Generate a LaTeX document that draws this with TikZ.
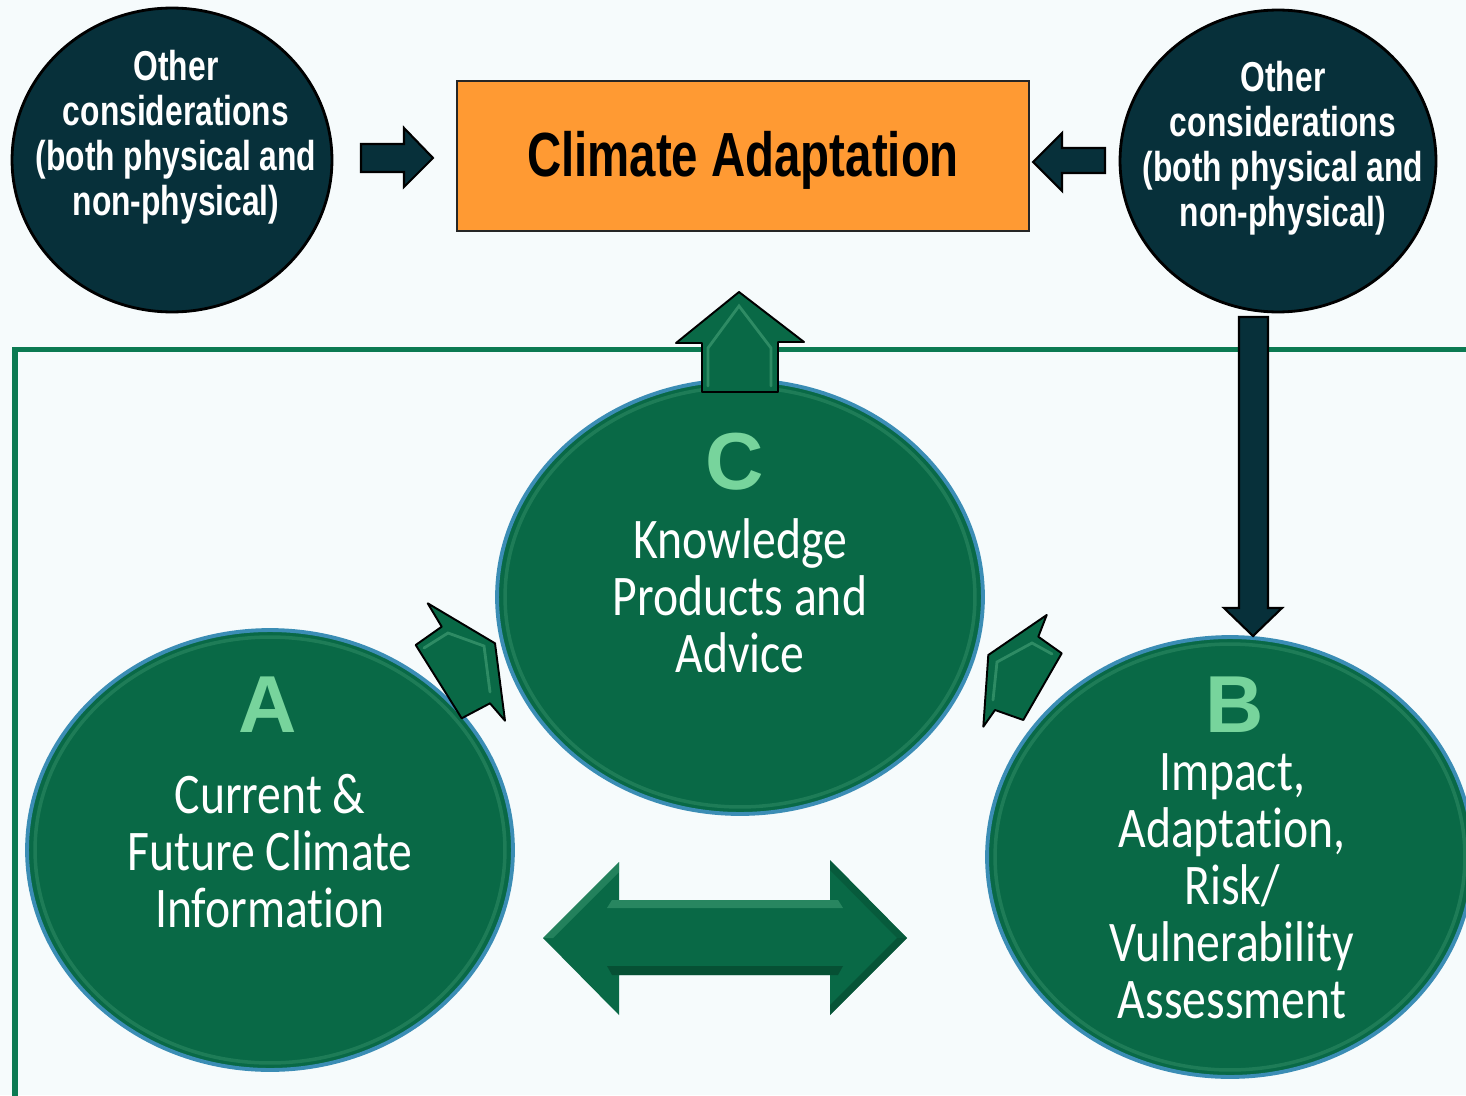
\documentclass[tikz,border=0pt]{standalone}
\usepackage{fontspec}
\setmainfont{Carlito}
\newfontfamily\lightf[FakeStretch=0.83,Ligatures=NoCommon]{Carlito}
\newfontfamily\boldn[FakeStretch=0.76]{Liberation Sans}
\newfontfamily\letterf{Liberation Sans}
\usetikzlibrary{shapes.geometric}
\definecolor{bg}{HTML}{F6FBFC}
\definecolor{darkc}{HTML}{07303A}
\definecolor{orangec}{HTML}{FF9A33}
\definecolor{greenc}{HTML}{096946}
\definecolor{rimc}{HTML}{3B8DB5}
\definecolor{framec}{HTML}{0C7A52}
\definecolor{letterc}{HTML}{77D49C}
\definecolor{hilite}{HTML}{3E9A72}
\definecolor{shadowc}{HTML}{05462D}
\tikzset{
  darkcirc/.style={ellipse, draw=black, line width=1.6pt, fill=darkc, inner sep=0pt, outer sep=0pt},
  greencirc/.style={ellipse, draw=rimc, line width=2.2pt, fill=greenc, inner sep=0pt, outer sep=0pt},
  bevel/.style={draw=hilite, line width=2pt, opacity=0.4},
  darktext/.style={text=white, align=center, font=\boldn\bfseries\fontsize{23.8pt}{25.6pt}\selectfont},
  lighttext/.style={text=white, align=center, font=\lightf\fontsize{32.7pt}{32.4pt}\selectfont},
  lettertext/.style={text=letterc, font=\letterf\bfseries\fontsize{46pt}{46pt}\selectfont},
  darkarrow/.style={fill=darkc, draw=black, line width=1.2pt, line join=miter},
  greenarrow/.style={fill=greenc, draw=black, line width=1.1pt, line join=round},
  hl/.style={draw=hilite, line width=1.6pt, opacity=0.7, line cap=round},
}
\begin{document}
\begin{tikzpicture}[x=0.02cm, y=-0.02cm]
\clip (0,0) rectangle (1466,1095);
\fill[bg] (0,0) rectangle (1466,1095);

% green frame
\draw[framec, line width=2.85pt] (15,1100) -- (15,349) -- (1470,349);

% top row
\node[darkcirc, minimum width=6.4cm, minimum height=6.08cm] (L) at (172,160) {};
\node[darkcirc, minimum width=6.32cm, minimum height=6.04cm] (R) at (1278,161) {};
\node[rectangle, draw=black!85, line width=1.1pt, fill=orangec, minimum width=11.44cm, minimum height=3cm, inner sep=0pt] (T) at (743,156) {};
\node[text=black, font=\boldn\bfseries\fontsize{35.5pt}{36pt}\selectfont] (Tt) at (743,160) {Climate Adaptation};
\node[darktext] (Lt) at (176,137) {Other\\considerations\\(both physical and\\non-physical)};
\node[darktext] (Rt) at (1283,148) {Other\\considerations\\(both physical and\\non-physical)};

% dark arrows
\draw[darkarrow] (361,144) -- (404,144) -- (404,128) -- (433,158) -- (404,187) -- (404,172) -- (361,172) -- cycle;
\draw[darkarrow] (1105,148) -- (1062,148) -- (1062,133) -- (1033,162) -- (1062,191) -- (1062,173) -- (1105,173) -- cycle;

% green circles
\node[greencirc, minimum width=9.72cm, minimum height=8.68cm] (C) at (740,597) {};
\node[greencirc, minimum width=9.72cm, minimum height=8.8cm] (A) at (270,850) {};
\node[greencirc, minimum width=9.72cm, minimum height=8.8cm] (B) at (1230,857) {};
\foreach \n/\ry in {C/4.2, A/4.26, B/4.26}{
  \draw[bevel] (\n.center) ellipse [x radius=4.7cm, y radius=\ry cm];
}

% texts in circles
\node[lettertext] (Cl) at (735,462) {C};
\node[lighttext] (Ct) at (740,596) {Knowledge\\Products and\\Advice};
\node[lettertext] (Al) at (268,705) {A};
\node[lighttext] (At) at (270,851) {Current \&\\Future Climate\\Information};
\node[lettertext] (Bl) at (1235,705) {B};
\node[lighttext] (Bt) at (1232,886) {Impact,\\Adaptation,\\Risk/\\Vulnerability\\Assessment};

% down arrow from R to B
\draw[darkarrow] (1239,317) -- (1268,317) -- (1268,608) -- (1282,608) -- (1253,636) -- (1224,608) -- (1239,608) -- cycle;

% up arrow from C to T
\draw[greenarrow] (702,392) -- (702,343) -- (676,343) -- (739,292) -- (804,342) -- (778,342) -- (778,392) -- cycle;
\draw[hl] (708,386) -- (708,348) -- (739,306) -- (771,348) -- (771,386);

% diagonal arrow A to C
\draw[greenarrow] (415.7,645) -- (441.7,626.7) -- (427.7,603.3) -- (495,643.3) -- (505,720.7) -- (490,703.3) -- (461.7,718.3) -- cycle;
\draw[hl] (424,648) -- (448,633) -- (484,646) -- (490,692);

% diagonal arrow B to C
\draw[greenarrow] (1061.7,653.3) -- (1038.3,636.7) -- (1046.7,615) -- (988.3,655) -- (983.3,726.7) -- (995,710) -- (1023.3,720) -- cycle;
\draw[hl] (1052,654) -- (1032,643) -- (997,662) -- (993,700);

% double arrow A <-> B
\fill[greenc] (543,938) -- (619,862) -- (619,900) -- (830,900) -- (830,860) -- (907,938) -- (830,1015) -- (830,975) -- (619,975) -- (619,1015) -- cycle;
\fill[hilite, opacity=0.6] (612,900) -- (838,900) -- (843,908) -- (607,908) -- cycle;
\fill[shadowc, opacity=0.7] (607,966) -- (843,966) -- (838,975) -- (612,975) -- cycle;
\fill[hilite, opacity=0.5] (543,938) -- (619,862) -- (619,872) -- (553,938) -- cycle;
\fill[shadowc, opacity=0.6] (907,938) -- (830,1015) -- (830,1005) -- (897,938) -- cycle;
\fill[shadowc, opacity=0.4] (830,860) -- (907,938) -- (897,938) -- (830,870) -- cycle;
\end{tikzpicture}
\end{document}
